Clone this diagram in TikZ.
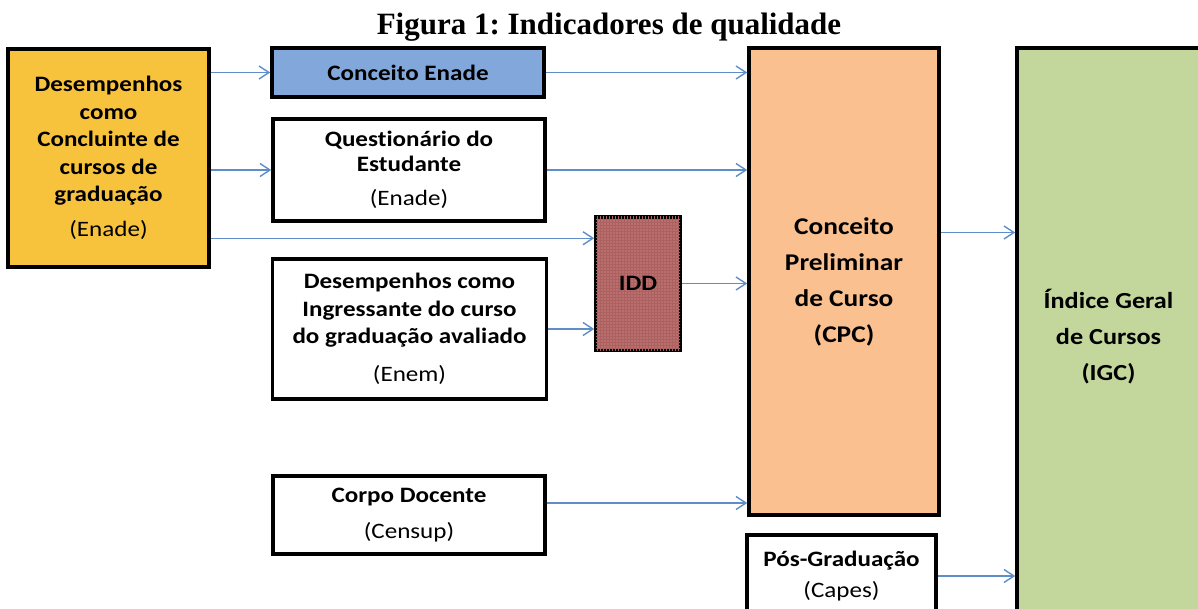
\documentclass[tikz,border=0pt]{standalone}
\usepackage{fontspec}
\setmainfont{Carlito}[FakeStretch=1.14,Ligatures=NoCommon]
\newfontfamily\titlefont{Liberation Serif}
\usepackage{xcolor}
\usepackage{tikz}
\usetikzlibrary{arrows.meta,patterns}
\frenchspacing

\definecolor{boxyellow}{HTML}{F8C33C}
\definecolor{boxblue}{HTML}{82A7DB}
\definecolor{boxorange}{HTML}{FAC08F}
\definecolor{boxgreen}{HTML}{C3D69B}
\definecolor{boxred}{HTML}{BA6E6E}
\definecolor{gridred}{HTML}{9A5252}
\definecolor{linkblue}{HTML}{5F8DC8}

\begin{document}
\begin{tikzpicture}[x=1pt,y=-1pt,
  box/.style={draw=black,line width=3.5pt,align=center,inner sep=0pt,
    font=\fontsize{22}{27.5}\selectfont\bfseries},
  link/.style={-{Straight Barb[length=10pt,width=13pt]},draw=linkblue,line width=1.4pt}]
  \useasboundingbox (0,0) rectangle (1198,609);

  % Title
  \node[anchor=base,font=\titlefont\fontsize{31}{31}\selectfont\bfseries] (title) at (609,35)
    {Figura 1: Indicadores de qualidade};

  % Input boxes
  \node[box,fill=boxyellow,minimum width=201,minimum height=218] (concl) at (108.5,158)
    {Desempenhos\\como\\Concluinte de\\cursos de\\graduação\\[7pt]{\mdseries (Enade)}};
  \node[box,fill=boxblue,minimum width=272,minimum height=49] (enade) at (408,72.5)
    {Conceito Enade};
  \node[box,fill=white,minimum width=272,minimum height=102] (quest) at (409,170)
    {Questionário do\\[-2.5pt]Estudante\\[7pt]{\mdseries (Enade)}};
  \node[box,fill=white,minimum width=274,minimum height=140] (ingr) at (409.5,329)
    {Desempenhos como\\Ingressante do curso\\do graduação avaliado\\[10pt]{\mdseries (Enem)}};
  \node[box,fill=white,minimum width=272,minimum height=78] (corpo) at (409,515)
    {Corpo Docente\\[9pt]{\mdseries (Censup)}};

  % IDD box
  \node[box,fill=boxred,postaction={pattern=grid,pattern color=gridred!45!boxred},
    minimum width=84,minimum height=133] (idd) at (638,283.5) {IDD};

  % CPC and IGC
  \node[box,fill=boxorange,minimum width=190,minimum height=467,
    font=\fontsize{24}{36}\selectfont\bfseries] (cpc) at (844,281.5)
    {Conceito\\Preliminar\\de Curso\\(CPC)};
  \node[box,fill=white,minimum width=189,minimum height=82] (pos) at (841.5,576)
    {Pós-Graduação\\[4pt]{\mdseries (Capes)}};
  \node[box,fill=boxgreen,minimum width=183,minimum height=578,
    font=\fontsize{23}{36}\selectfont\bfseries] (igc) at (1108.5,337)
    {Índice Geral\\de Cursos\\(IGC)};

  % Arrows
  \coordinate (iddin) at ([yshift=-23pt]idd.north west);
  \coordinate (corpoout) at ([yshift=12pt]corpo.east);
  \coordinate (cpcout) at ([yshift=49pt]cpc.east);
  \draw[link] (concl.east |- enade.west) -- (enade.west);
  \draw[link] (concl.east |- quest.west) -- (quest.west);
  \draw[link] (concl.east |- iddin) -- (iddin);
  \draw[link] (enade.east) -- (enade.east -| cpc.west);
  \draw[link] (quest.east) -- (quest.east -| cpc.west);
  \draw[link] (ingr.east) -- (ingr.east -| idd.west);
  \draw[link] (idd.east) -- (idd.east -| cpc.west);
  \draw[link] (corpoout) -- (corpoout -| cpc.west);
  \draw[link] (cpcout) -- (cpcout -| igc.west);
  \draw[link] (pos.east) -- (pos.east -| igc.west);
\end{tikzpicture}
\end{document}
